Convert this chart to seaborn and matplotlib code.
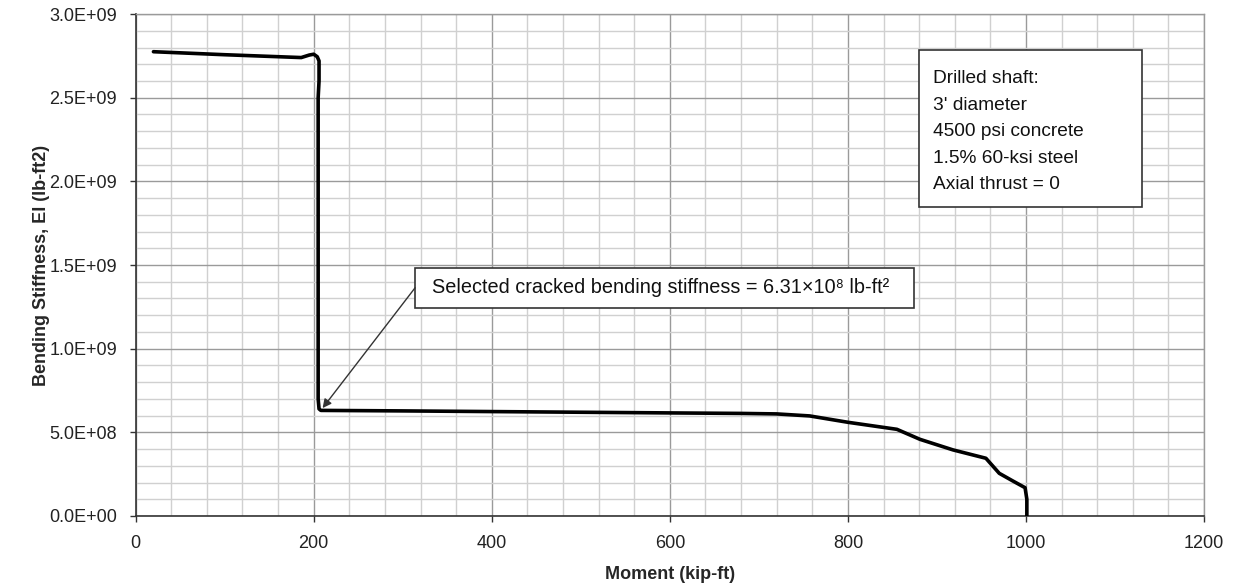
"""Bending stiffness vs moment for a drilled shaft."""

import pandas as pd
import seaborn as sns
import matplotlib.pyplot as plt
from matplotlib.patches import Rectangle
from matplotlib.ticker import MultipleLocator

# Moment (kip-ft) and bending stiffness EI (lb-ft2)
moment = [20, 100, 186, 195, 200, 204, 206, 206, 205, 205, 205, 206, 208,
          300, 400, 500, 600, 680, 720, 757, 800, 855, 881, 918, 955,
          970, 985, 999, 1001, 1001]
stiffness = [2.775e9, 2.757e9, 2.740e9, 2.755e9, 2.760e9, 2.745e9, 2.72e9,
             2.60e9, 2.50e9, 1.50e9, 0.70e9, 0.640e9, 0.631e9,
             0.628e9, 0.624e9, 0.620e9, 0.616e9, 0.613e9, 0.610e9, 0.598e9,
             0.560e9, 0.518e9, 0.458e9, 0.395e9, 0.345e9,
             0.255e9, 0.210e9, 0.169e9, 0.100e9, 0.0]

x_label = 'Moment (kip-ft)'
y_label = 'Bending Stiffness, EI (lb-ft2)'
note_text = ('Drilled shaft:\n3\' diameter\n4500 psi concrete\n'
             '1.5% 60-ksi steel\nAxial thrust = 0')
select_text = 'Selected cracked bending stiffness = 6.31×10⁸ lb-ft²'
select_point = (210, 6.45e8)

#########################################################################################

sns.set_style('white')
plt.rcParams['font.family'] = ['Liberation Sans', 'DejaVu Sans']

df = pd.DataFrame({'moment': moment, 'EI': stiffness})

fig = plt.figure(figsize=(12.33, 5.86), dpi=100)
ax = fig.add_axes([0.110, 0.1195, 0.8665, 0.8565])

sns.lineplot(data=df, x='moment', y='EI', sort=False, estimator=None,
             color='black', linewidth=2.6, ax=ax, zorder=5)

# Axes limits and ticks
ax.set_xlim(0, 1200)
ax.set_ylim(0, 3.0e9)
ax.xaxis.set_major_locator(MultipleLocator(200))
ax.xaxis.set_minor_locator(MultipleLocator(40))
ax.yaxis.set_major_locator(MultipleLocator(5e8))
ax.yaxis.set_minor_locator(MultipleLocator(1e8))
ax.yaxis.set_major_formatter(plt.FuncFormatter(
    lambda v, p: '{:.1E}'.format(v)))

ax.grid(which='major', color='#9a9a9a', linewidth=1.0, zorder=0)
ax.grid(which='minor', color='#d0d0d0', linewidth=1.0, zorder=0)
ax.set_axisbelow(True)

ax.tick_params(axis='both', which='major', direction='out', length=4.5, width=1,
               color='#333333', labelsize=13, labelcolor='#222222', pad=9,
               bottom=True, left=True)
ax.tick_params(axis='both', which='minor', length=0)

for side in ['left', 'bottom']:
    ax.spines[side].set_color('#333333')
    ax.spines[side].set_linewidth(1.2)
for side in ['top', 'right']:
    ax.spines[side].set_color('#9a9a9a')
    ax.spines[side].set_linewidth(1.0)

ax.set_xlabel(x_label, fontsize=13, fontweight='bold', labelpad=10)
ax.set_ylabel(y_label, fontsize=13, fontweight='bold', labelpad=-1)

# Info box
ax.add_patch(Rectangle((880.4, 1.848e9), 249.6, 0.939e9, facecolor='white',
                       edgecolor='#333333', linewidth=1.2, zorder=6))
ax.text(896, 2.297e9, note_text, fontsize=13.8, va='center', ha='left',
        linespacing=1.74, color='#111111', zorder=7)

# Selected stiffness annotation
ax.add_patch(Rectangle((313.9, 1.244e9), 559.8, 0.239e9, facecolor='white',
                       edgecolor='#333333', linewidth=1.2, zorder=6))
ax.text(332.6, 1.364e9, select_text, fontsize=14.3, va='center', ha='left',
        color='#111111', zorder=7)
ax.annotate('', xy=select_point, xytext=(313.9, 1.364e9), zorder=7,
            arrowprops=dict(arrowstyle='-|>', color='#333333', lw=1.0,
                            shrinkA=0, shrinkB=0, mutation_scale=13))

fig.savefig('out.png', dpi=100)
